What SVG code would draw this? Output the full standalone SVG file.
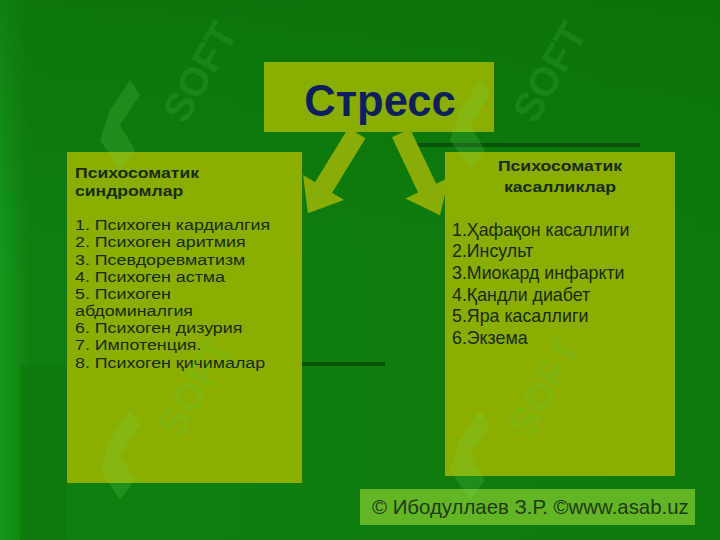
<svg xmlns="http://www.w3.org/2000/svg" width="720" height="540" viewBox="0 0 720 540">
<defs>
<linearGradient id="bg" x1="0" y1="0" x2="1" y2="0">
<stop offset="0" stop-color="#14991a"/>
<stop offset="0.04" stop-color="#0f8010"/>
<stop offset="1" stop-color="#0d7a0c"/>
</linearGradient>
<linearGradient id="bgv" x1="0" y1="0" x2="0" y2="1">
<stop offset="0" stop-color="#0a6a08" stop-opacity="0.5"/>
<stop offset="0.5" stop-color="#0a6a08" stop-opacity="0"/>
</linearGradient>
</defs>
<style>
.box{fill:#8aaf02}
.arrow{fill:#8aac06}
.title{font-family:"Liberation Sans",Arial,sans-serif;font-weight:bold;font-size:15.3px;fill:#1a2b18}
.item{font-family:"Liberation Sans",Arial,sans-serif;font-size:15.5px;fill:#1a2a12}
.itemr{font-family:"Liberation Sans",Arial,sans-serif;font-size:17.8px;fill:#1a2a12}
.wm{font-family:"Liberation Sans",Arial,sans-serif;font-weight:bold;font-size:40px;fill:#5fd050;opacity:0.16}
.logo{fill:#6ee05a;opacity:0.18}
.shadow{stroke:#0a5208;stroke-width:4;fill:none}
</style>
<rect width="720" height="540" fill="url(#bg)"/>
<rect width="720" height="540" fill="url(#bgv)"/>
<rect x="20" y="365" width="47" height="175" fill="#0c6e0b" opacity="0.35"/>
<g id="decor">
<line class="shadow" x1="302" y1="364" x2="385" y2="364"/>
<line class="shadow" x1="415" y1="145" x2="640" y2="145"/>
</g>
<g id="stress">
<rect class="box" x="264" y="62" width="230" height="70"/>
<text x="380" y="116" text-anchor="middle" font-family="Liberation Sans, Arial, sans-serif" font-weight="bold" font-size="43.5" fill="#0f1f5c">Стресс</text>
</g>
<g id="connectors">
<path class="arrow" transform="translate(357,133) rotate(31.5)" d="M-10,0 L10,0 L10,64 L24,64 L0,94 L-24,64 L-10,64 Z"/>
<path class="arrow" transform="translate(401,133) rotate(-25.4)" d="M-10,0 L10,0 L10,61 L24,61 L0,91 L-24,61 L-10,61 Z"/>
</g>
<g id="syndromes">
<rect class="box" x="67" y="152" width="235" height="331"/>
<g transform="translate(75,0) scale(1.15,1)">
<text class="title" x="0" y="178">Психосоматик</text>
<text class="title" x="0" y="196">синдромлар</text>
<text class="item" x="0" y="230">1. Психоген кардиалгия</text>
<text class="item" x="0" y="247">2. Психоген аритмия</text>
<text class="item" x="0" y="265">3. Псевдоревматизм</text>
<text class="item" x="0" y="282">4. Психоген астма</text>
<text class="item" x="0" y="299">5. Психоген</text>
<text class="item" x="0" y="316">абдоминалгия</text>
<text class="item" x="0" y="333">6. Психоген дизурия</text>
<text class="item" x="0" y="350">7. Импотенция.</text>
<text class="item" x="0" y="368">8. Психоген қичималар</text>
</g>
</g>
<g id="diseases">
<rect class="box" x="445" y="152" width="230" height="324"/>
<g transform="translate(560,0) scale(1.15,1)">
<text class="title" x="0" y="171" text-anchor="middle">Психосоматик</text>
<text class="title" x="0" y="192" text-anchor="middle">касалликлар</text>
</g>
<text class="itemr" x="452" y="236">1.Ҳафақон касаллиги</text>
<text class="itemr" x="452" y="257">2.Инсульт</text>
<text class="itemr" x="452" y="279">3.Миокард инфаркти</text>
<text class="itemr" x="452" y="301">4.Қандли диабет</text>
<text class="itemr" x="452" y="322">5.Яра касаллиги</text>
<text class="itemr" x="452" y="344">6.Экзема</text>
</g>
<g id="footer">
<rect x="360" y="489" width="335" height="36" fill="#72c02a" opacity="0.85"/>
<text x="372" y="514" font-family="Liberation Sans, Arial, sans-serif" font-size="20.4" fill="#1f3a14">© Ибодуллаев З.Р. ©www.asab.uz</text>
</g>
<g id="watermarks">
<text class="wm" transform="translate(185,125) rotate(-60)">SOFT</text>
<text class="wm" transform="translate(535,125) rotate(-60)">SOFT</text>
<text class="wm" transform="translate(180,440) rotate(-60)">SOFT</text>
<text class="wm" transform="translate(530,440) rotate(-60)">SOFT</text>
<path class="logo" d="M110,110 L130,80 L140,95 L120,125 L135,150 L120,170 L100,140 Z"/>
<path class="logo" d="M460,110 L480,80 L490,95 L470,125 L485,150 L470,170 L450,140 Z"/>
<path class="logo" d="M110,440 L130,410 L140,425 L120,455 L135,480 L120,500 L100,470 Z"/>
<path class="logo" d="M460,440 L480,410 L490,425 L470,455 L485,480 L470,500 L450,470 Z"/>
</g>
</svg>
